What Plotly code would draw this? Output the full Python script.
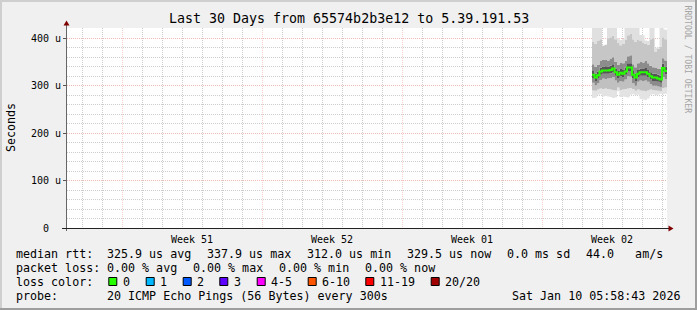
import plotly.graph_objects as go
import pandas as pd

# ---------------- data ----------------
title_text = "Last 30 Days from 65574b2b3e12 to 5.39.191.53"
t_start = "2025-12-11 05:58:43"
t_end = "2026-01-10 05:58:43"
data_start = "2026-01-06 12:00:00"
step_hours = 3

# median rtt per 3h step (microseconds)
median = [323, 317, 322, 330, 332, 332, 332, 333, 336, 328, 323, 327, 325, 330, 338,
          338, 323, 317, 325, 328, 328, 328, 325, 320, 317, 317, 315, 313, 337, 331]
# smoke envelopes (microseconds)
smoke_min = [274, 275, 281, 282, 277, 278, 277, 276, 274, 275, 288, 276, 277, 276, 275,
             281, 282, 280, 281, 272, 271, 270, 273, 281, 282, 280, 281, 283, 282, 283]
smoke_q10 = [290, 289, 292, 294, 293, 294, 293, 292, 291, 290, 296, 291, 292, 293, 294,
             295, 293, 289, 292, 290, 289, 288, 290, 292, 291, 290, 289, 288, 295, 296]
smoke_q25 = [306, 301, 305, 312, 315, 314, 315, 316, 318, 311, 306, 310, 308, 313, 320,
             319, 305, 300, 308, 311, 310, 311, 308, 303, 300, 300, 298, 297, 318, 314]
smoke_q40 = [316, 310, 315, 323, 325, 325, 325, 326, 329, 321, 316, 320, 318, 323, 331,
             331, 316, 310, 318, 321, 321, 321, 318, 313, 310, 310, 308, 306, 330, 324]
smoke_q60 = [331, 325, 330, 338, 340, 341, 340, 342, 345, 336, 331, 335, 333, 338, 347,
             347, 331, 325, 333, 336, 336, 337, 333, 328, 325, 325, 323, 321, 346, 340]
smoke_q75 = [345, 340, 344, 352, 354, 355, 353, 356, 360, 350, 344, 349, 347, 352, 362,
             364, 345, 339, 347, 350, 349, 352, 347, 342, 339, 338, 336, 335, 358, 353]
smoke_q90 = [392, 388, 395, 398, 384, 386, 400, 402, 405, 398, 390, 385, 388, 396, 406,
             410, 398, 392, 396, 394, 390, 388, 386, 398, 400, 372, 378, 382, 402, 398]
smoke_max = [440, 440, 440, 440, 385, 386, 440, 440, 425, 430, 400, 396, 398, 440, 440,
             440, 440, 440, 440, 407, 406, 395, 394, 440, 440, 380, 381, 425, 420, 418]

week_starts = ["2025-12-14", "2025-12-21", "2025-12-28", "2026-01-04"]
week_labels = ["Week 51", "Week 52", "Week 01", "Week 02"]

y_ticks = [0, 100, 200, 300, 400]
y_ticktext = ["0\u00a0\u00a0", "100 u", "200 u", "300 u", "400 u"]

stats_rtt = ["325.9 us avg", "337.9 us max", "312.0 us min", "329.5 us now", "0.0 ms sd", "44.0   am/s"]
stats_loss = ["0.00 % avg", "0.00 % max", "0.00 % min", "0.00 % now"]
loss_labels = ["0", "1", "2", "3", "4-5", "6-10", "11-19", "20/20"]
loss_colors = ["#26ff00", "#00b8ff", "#0059ff", "#5e00ff", "#ff00ff", "#ff5500", "#ff0000", "#a00000"]
probe_text = "20 ICMP Echo Pings (56 Bytes) every 300s"
date_text = "Sat Jan 10 05:58:43 2026"

# ---------------- layout helpers ----------------
W, H = 697, 310
L, R, T, B = 67, 30, 28, 82
PW, PH = W - L - R, H - T - B
FONT = "DejaVu Sans Mono"
BG = "#f0f0f0"
GRID = "#cdcdcd"
MGRID = "#f2bab4"
MGRID_X = "#f6d2ce"


def px(x):
    return (x - L) / PW


def py(y):
    return (H - B - y) / PH


def nb(s):
    return s.replace(" ", "\u00a0")


step = pd.Timedelta(hours=step_hours)
times = [pd.Timestamp(data_start) + i * step for i in range(len(median))]
tx = times + [times[-1] + step]


def ext(v):
    return list(v) + [v[-1]]


fig = go.Figure()

# smoke bands (lightest outside, darkest around the median)
bands = [
    (smoke_min, None),
    (smoke_q10, "#e3e3e3"),
    (smoke_q25, "#c0c0c0"),
    (smoke_q40, "#8c8c8c"),
    (smoke_q60, "#555555"),
    (smoke_q75, "#8c8c8c"),
    (smoke_q90, "#c6c6c6"),
    (smoke_max, "#e0e0e0"),
]
for vals, col in bands:
    fig.add_trace(go.Scatter(
        x=tx, y=ext(vals), mode="lines",
        line=dict(width=0, shape="hv"),
        fill=None if col is None else "tonexty",
        fillcolor=col, hoverinfo="skip", showlegend=False))

fig.add_trace(go.Scatter(
    x=tx, y=ext(median), mode="lines",
    line=dict(color=loss_colors[0], width=2, shape="hv"),
    hoverinfo="skip", showlegend=False))

# empty trace so that the label axis is drawn
fig.add_trace(go.Scatter(x=[], y=[], xaxis="x2", showlegend=False))

days = pd.date_range("2025-12-12", "2026-01-10", freq="D")
minor_days = [d for d in days if d.dayofweek != 6]
label_pos = [pd.Timestamp(w) + pd.Timedelta(hours=84) for w in week_starts]
y_minor = [v for v in range(20, 440, 20) if v % 100 != 0]

fig.update_layout(
    width=W, height=H,
    margin=dict(l=L, r=R, t=T, b=B, pad=0),
    paper_bgcolor=BG, plot_bgcolor="#ffffff",
    showlegend=False,
    font=dict(family=FONT, size=10, color="#000000"),
    xaxis=dict(
        type="date", range=[t_start, t_end],
        tickmode="array", tickvals=week_starts, showticklabels=False,
        showgrid=True, gridcolor=MGRID_X, griddash="1px,1px", gridwidth=1,
        minor=dict(tickmode="array", tickvals=minor_days, showgrid=True,
                   gridcolor=GRID, griddash="1px,1px", gridwidth=1, ticks=""),
        ticks="", showline=False, zeroline=False, fixedrange=True),
    xaxis2=dict(
        type="date", range=[t_start, t_end], overlaying="x", anchor="y", side="bottom",
        tickmode="array", tickvals=label_pos, ticktext=week_labels,
        showgrid=False, ticks="", showline=False, zeroline=False,
        tickfont=dict(family=FONT, size=10, color="#000000"),
        ticklabelstandoff=4),
    yaxis=dict(
        range=[0, 421.5], tickmode="array", tickvals=y_ticks, ticktext=y_ticktext,
        showgrid=True, gridcolor=MGRID, griddash="1px,1px", gridwidth=1,
        minor=dict(tickmode="array", tickvals=y_minor, showgrid=True,
                   gridcolor=GRID, griddash="1px,1px", gridwidth=1, ticks=""),
        ticks="outside", ticklen=3, tickcolor="#555555",
        tickfont=dict(family=FONT, size=10, color="#000000"),
        showline=False, zeroline=False, fixedrange=True),
)

shapes = []
# axis lines
shapes.append(dict(type="line", xref="paper", yref="paper",
                   x0=px(66.5), x1=px(66.5), y0=py(231), y1=py(25),
                   line=dict(color="#666666", width=1)))
shapes.append(dict(type="line", xref="paper", yref="paper",
                   x0=px(62), x1=px(669), y0=py(228.5), y1=py(228.5),
                   line=dict(color="#222222", width=1)))
# arrows
shapes.append(dict(type="path", xref="paper", yref="paper",
                   path="M {} {} L {} {} L {} {} Z".format(px(63.5), py(25.5), px(69.5), py(25.5), px(66.5), py(20.5)),
                   fillcolor="#800000", line=dict(width=0)))
shapes.append(dict(type="path", xref="paper", yref="paper",
                   path="M {} {} L {} {} L {} {} Z".format(px(668.5), py(225.5), px(668.5), py(231.5), px(673.5), py(228.5)),
                   fillcolor="#800000", line=dict(width=0)))
# frame
shapes.append(dict(type="rect", xref="paper", yref="paper", x0=px(0), x1=px(W), y0=py(0), y1=py(2),
                   fillcolor="#cfcfcf", line=dict(width=0)))
shapes.append(dict(type="rect", xref="paper", yref="paper", x0=px(0), x1=px(2), y0=py(0), y1=py(H),
                   fillcolor="#cfcfcf", line=dict(width=0)))
shapes.append(dict(type="rect", xref="paper", yref="paper", x0=px(0), x1=px(W), y0=py(H - 2), y1=py(H),
                   fillcolor="#9e9e9e", line=dict(width=0)))
shapes.append(dict(type="rect", xref="paper", yref="paper", x0=px(W - 2), x1=px(W), y0=py(0), y1=py(H),
                   fillcolor="#9e9e9e", line=dict(width=0)))

# loss colour swatches
box_x = [108.3, 145.7, 182.7, 219.3, 256.7, 307.7, 365.3, 430.7]
for bx, col in zip(box_x, loss_colors):
    shapes.append(dict(type="rect", xref="paper", yref="paper",
                       x0=px(bx + 0.5), x1=px(bx + 8.5), y0=py(277.5), y1=py(285.5),
                       fillcolor=col, line=dict(color="#000000", width=1)))

annotations = []


def ann(text, x, y, size=11.67, xanchor="left", color="#000000", angle=0):
    annotations.append(dict(text=nb(text), x=px(x), y=py(y), xref="paper", yref="paper",
                            xanchor=xanchor, yanchor="middle", showarrow=False,
                            borderpad=0, borderwidth=0, textangle=angle,
                            font=dict(family=FONT, size=size, color=color)))


ann(title_text, 348.5, 18.5, size=13.3, xanchor="center")
ann("Seconds", 10.5, 127.5, xanchor="center", angle=-90)
ann("RRDTOOL / TOBI OETIKER", 687.5, 59, size=8.15, xanchor="center", color="#a4a4a4", angle=90)

r1, r2, r3, r4 = 253.5, 267.8, 281.8, 296.0
ann("median rtt:", 16, r1)
for s, x in zip(stats_rtt, [107.3, 207.3, 307.3, 407.3, 507.3, 586]):
    ann(s, x, r1)
ann("packet loss:", 16, r2)
for s, x in zip(stats_loss, [107.3, 193.3, 279.3, 365.3]):
    ann(s, x, r2)
ann("loss color:", 16, r3)
for s, bx in zip(loss_labels, box_x):
    ann(s, bx + 14.5, r3)
ann("probe:", 16, r4)
ann(probe_text, 107.3, r4)
ann(date_text, 680, r4, xanchor="right")

fig.update_layout(shapes=shapes, annotations=annotations)
fig.write_html("out.html")
